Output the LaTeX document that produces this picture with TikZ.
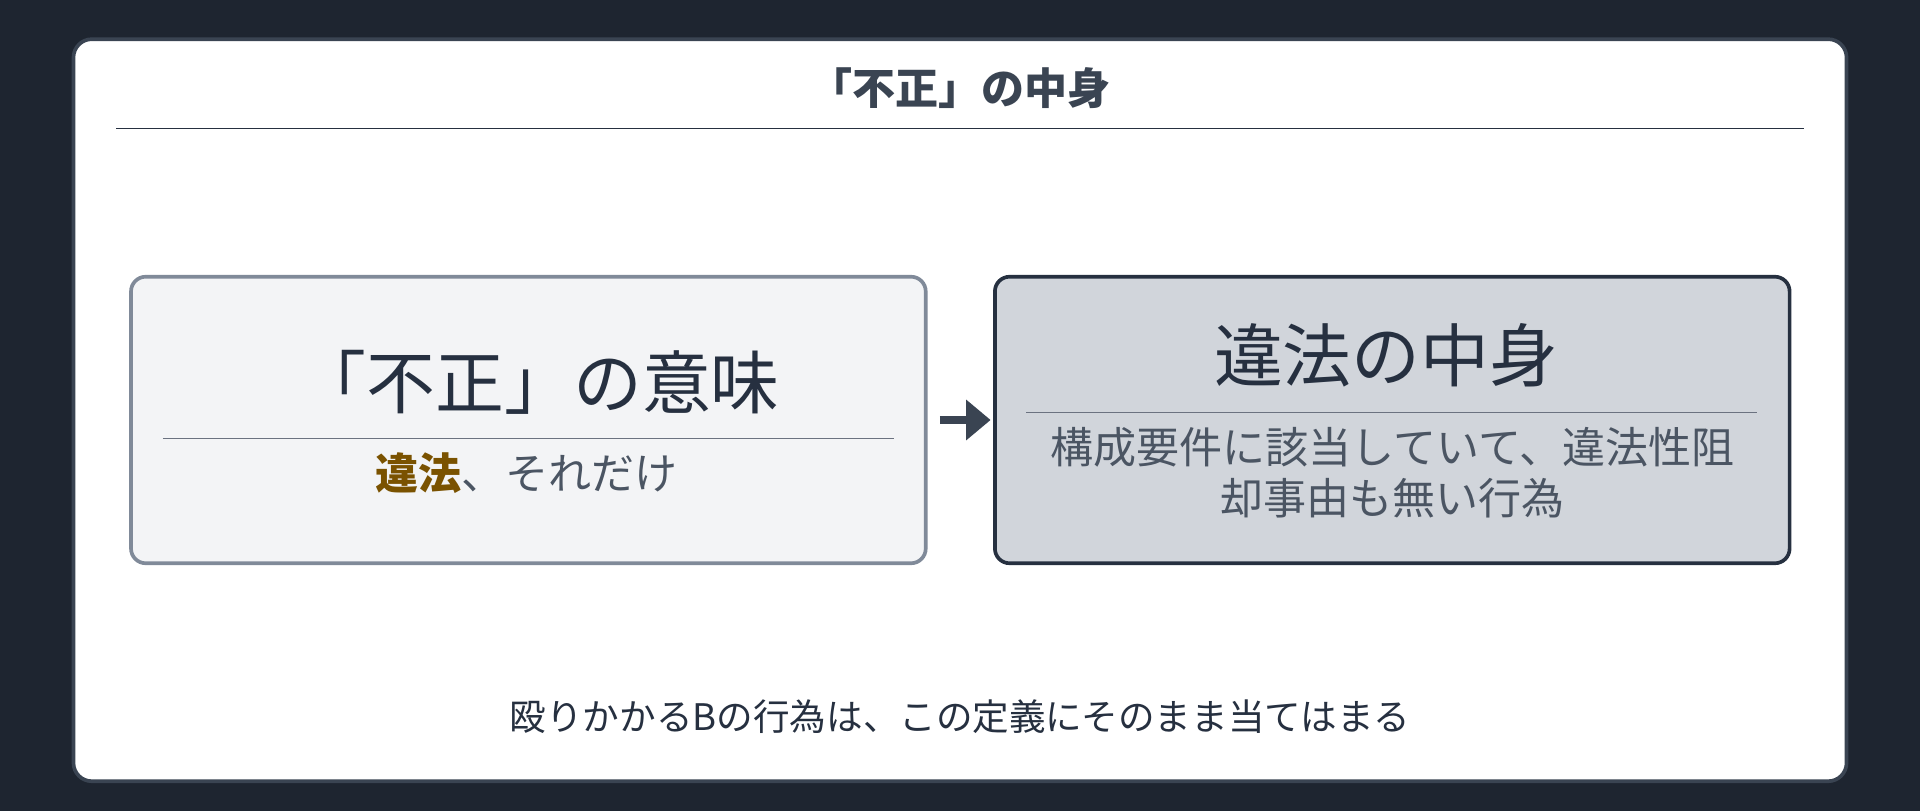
\documentclass[tikz,border=0pt]{standalone}
\usepackage{fontspec}
\setmainfont{Noto Sans CJK JP}
\usetikzlibrary{arrows.meta,positioning}
\definecolor{pagebg}{HTML}{1E2530}
\definecolor{cardline}{HTML}{3A4452}
\definecolor{softfill}{HTML}{F3F4F6}
\definecolor{softline}{HTML}{808A99}
\definecolor{darkfill}{HTML}{D1D5DB}
\definecolor{darkline}{HTML}{263040}
\definecolor{inkgray}{HTML}{4B5563}
\definecolor{rulegray}{HTML}{6B7280}
\definecolor{brownish}{HTML}{7A5200}

\begin{document}
\begin{tikzpicture}
\tikzset{box/.style = {rectangle, rounded corners=0.12cm, line width=0.03cm, minimum width=6.49cm, minimum height=2.34cm}}
\tikzset{arrow/.style = {line width=0.06cm, draw=cardline, -{Triangle[length=0.2cm,width=0.32cm]}}}

\fill[pagebg] (0,0) rectangle (15.68,-6.62);
\useasboundingbox (0,0) rectangle (15.68,-6.62);
\draw[cardline, fill=white, line width=0.03cm, rounded corners=0.15cm] (0.6,-0.32) rectangle (15.08,-6.38);

\node (title) at (7.84,-0.72) {\fontsize{10pt}{12pt}\selectfont\bfseries\color{cardline}「不正」の中身};
\draw[darkline, line width=0.015cm] (0.95,-1.05) -- (14.73,-1.05);

\node (meaning) [box, draw=softline, fill=softfill] at (4.315,-3.43) {};
\node (content) [box, draw=darkline, fill=darkfill] at (11.37,-3.43) {};

\node (meaninghead) at (4.4,-3.12) {\fontsize{16pt}{18pt}\selectfont\color{darkline}「不正」の意味};
\draw[rulegray, line width=0.012cm] (1.33,-3.58) -- (7.30,-3.58);
\node (meaningnote) at (4.3,-3.86) {\fontsize{10pt}{12pt}\selectfont\color{inkgray}\textbf{\color{brownish}違法}、それだけ};

\node (contenthead) at (11.32,-2.9) {\fontsize{16pt}{18pt}\selectfont\color{darkline}違法の中身};
\draw[rulegray, line width=0.012cm] (8.38,-3.37) -- (14.35,-3.37);
\node (contentnote) [align=center] at (11.37,-3.86) {\fontsize{10pt}{14pt}\selectfont\color{inkgray}構成要件に該当していて、違法性阻\\ \color{inkgray}却事由も無い行為};

\draw[arrow, shorten <=0.1cm, shorten >=0.02cm] (meaning.east) -- (content.west);

\node (footer) at (7.84,-5.85) {\fontsize{8.5pt}{10pt}\selectfont\color{darkline}殴りかかるBの行為は、この定義にそのまま当てはまる};
\end{tikzpicture}
\end{document}
